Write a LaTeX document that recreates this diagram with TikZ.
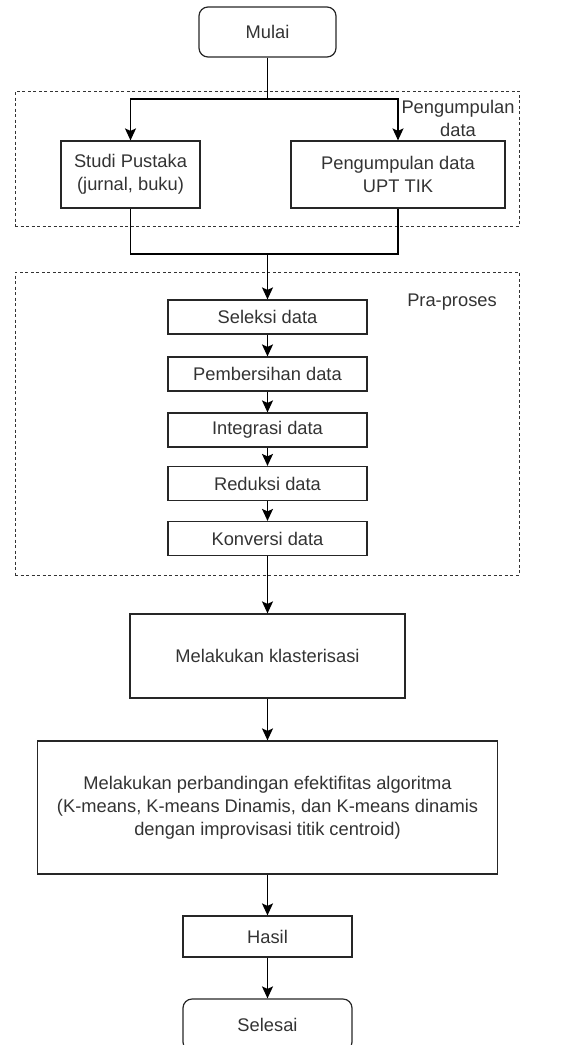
\documentclass[tikz,border=0pt]{standalone}
\usepackage{fontspec}
\setmainfont{Liberation Sans}
\usetikzlibrary{arrows.meta}

\begin{document}
\begin{tikzpicture}[x=1pt, y=1pt,
  font=\fontsize{18.3}{23}\selectfont, text=black!80,
  procbox/.style={draw=black!85, rectangle, line width=1.2pt, align=center, inner sep=0pt},
  termbox/.style={draw=black!85, rectangle, rounded corners=9pt, line width=1.2pt, align=center, inner sep=0pt},
  groupbox/.style={draw=black!80, rectangle, line width=0.9pt, dash pattern=on 3pt off 2.5pt, inner sep=0pt},
  flow/.style={-{Stealth[length=12pt, width=11pt, inset=2.5pt]}, line width=1.3pt},
  link/.style={line width=1.3pt}]
\useasboundingbox (0,0) rectangle (571,-1045);

% dashed groups
\node (grupkumpul)[groupbox, minimum width=504pt, minimum height=135pt] at (267,-158.5) {};
\node (gruppra)[groupbox, minimum width=504pt, minimum height=303pt] at (267,-423.5) {};
\node (labelkumpul)[align=center] at (458,-118.5) {Pengumpulan\\data};
\node (labelpra) at (452,-302) {Pra-proses};

\node (mulai)[termbox, minimum width=137pt, minimum height=50pt] at (267.5,-32) {Mulai};
\coordinate[below of=mulai, node distance=67pt] (fork);
\node (studi)[procbox, minimum width=139pt, minimum height=67pt, below of=fork, node distance=75.5pt, xshift=-137pt]{Studi Pustaka\\(jurnal, buku)};
\node (upt)[procbox, minimum width=214pt, minimum height=67pt, below of=fork, node distance=75.5pt, xshift=130.5pt]{Pengumpulan data\\UPT TIK};
\coordinate[below of=fork, node distance=155pt] (join);

\node (seleksi)[procbox, minimum width=199pt, minimum height=34pt, below of=join, node distance=63pt]{Seleksi data};
\node (bersih)[procbox, minimum width=199pt, minimum height=34pt, below of=seleksi, node distance=57pt]{Pembersihan data};
\node (integrasi)[procbox, minimum width=199pt, minimum height=34pt, below of=bersih, node distance=56pt]{Integrasi data};
\node (reduksi)[procbox, minimum width=199pt, minimum height=34pt, below of=integrasi, node distance=53.5pt]{Reduksi data};
\node (konversi)[procbox, minimum width=199pt, minimum height=34pt, below of=reduksi, node distance=55pt]{Konversi data};

\node (klaster)[procbox, minimum width=275pt, minimum height=84pt, below of=konversi, node distance=117.5pt]{Melakukan klasterisasi};
\node (banding)[procbox, minimum width=460pt, minimum height=133pt, below of=klaster, node distance=151.5pt]{Melakukan perbandingan efektifitas algoritma\\(K-means, K-means Dinamis, dan K-means dinamis\\dengan improvisasi titik centroid)};
\node (hasil)[procbox, minimum width=169pt, minimum height=41pt, below of=banding, node distance=129pt]{Hasil};
\node (selesai)[termbox, minimum width=169pt, minimum height=52pt, below of=hasil, node distance=88.5pt]{Selesai};

\draw [link](mulai)--(fork);
\draw [flow](fork)-|(studi);
\draw [flow](fork)-|(upt);
\draw [link](studi)|-(join);
\draw [link](upt)|-(join);
\draw [flow](join)--(seleksi);
\draw [flow](seleksi)--(bersih);
\draw [flow](bersih)--(integrasi);
\draw [flow](integrasi)--(reduksi);
\draw [flow](reduksi)--(konversi);
\draw [flow](konversi)--(klaster);
\draw [flow](klaster)--(banding);
\draw [flow](banding)--(hasil);
\draw [flow](hasil)--(selesai);
\end{tikzpicture}
\end{document}
